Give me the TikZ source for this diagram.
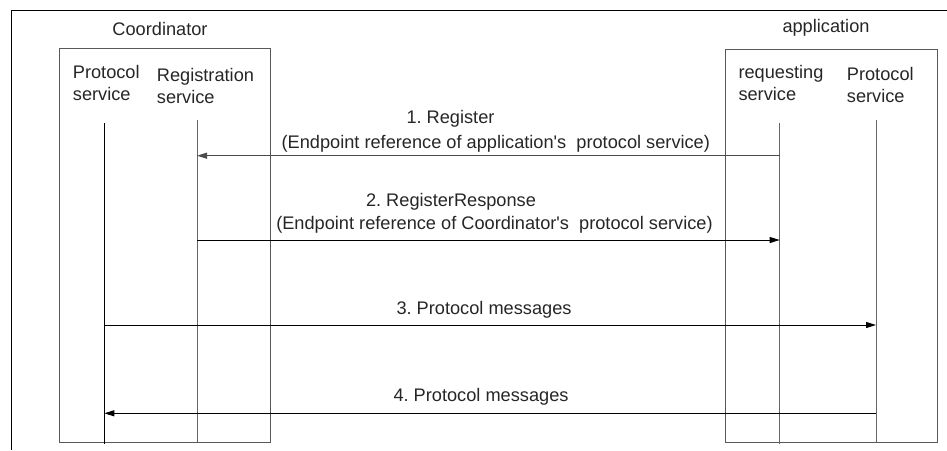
\documentclass[tikz,border=0pt]{standalone}
\usepackage{fontspec}
\setmainfont{Liberation Sans}
\usetikzlibrary{arrows.meta}
\frenchspacing
\begin{document}
\begin{tikzpicture}[x=1pt,y=-1pt,
  lbl/.style={font=\fontsize{18.2}{22}\selectfont\frenchspacing, text=black!85, inner sep=0pt},
  box/.style={draw=black!65, line width=1pt, inner sep=0pt},
  lifeblack/.style={draw=black, line width=1pt},
  lifegray/.style={draw=black!60, line width=1pt},
  msg/.style={line width=1pt, -{Triangle[length=10pt,width=6pt]}}]
\useasboundingbox (0,0) rectangle (947,450);
% outer frame (cropped)
\coordinate (fBL) at (11,450);
\coordinate (fTL) at (11,10);
\coordinate (fTR) at (947,10);
\draw[line width=1pt] (fBL) -- (fTL) -- (fTR);
% group boxes
\node[box, anchor=north west, minimum width=211.3pt, minimum height=394.2pt] (cbox) at (58.7,47.5) {};
\node[box, anchor=north west, minimum width=211.7pt, minimum height=392.7pt] (abox) at (725.3,49) {};
% titles
\node[lbl, anchor=base] (coord) at (160,35) {Coordinator};
\node[lbl, anchor=base] (app) at (826,32) {application};
% column labels (base = last line)
\node[lbl, anchor=base west, align=left] (cps) at (72.7,100) {Protocol\\service};
\node[lbl, anchor=base west, align=left] (crs) at (156.7,103) {Registration\\service};
\node[lbl, anchor=base west, align=left] (ars) at (738.3,100) {requesting\\service};
\node[lbl, anchor=base west, align=left] (aps) at (846.7,102) {Protocol\\service};
% lifelines
\coordinate (cpT) at (104.3,123);  \coordinate (cpB) at (104.3,444);
\coordinate (crT) at (197,120);    \coordinate (crB) at (197,441.7);
\coordinate (arT) at (779.7,123);  \coordinate (arB) at (779.7,444);
\coordinate (apT) at (876,120);    \coordinate (apB) at (876,441.7);
\draw[lifeblack] (cpT) -- (cpB);
\draw[lifegray] (crT) -- (crB);
\draw[lifegray] (arT) -- (arB);
\draw[lifegray] (apT) -- (apB);
% message points
\coordinate (m1a) at (779.7,155.7); \coordinate (m1b) at (197,155.7);
\coordinate (m2a) at (197,240);     \coordinate (m2b) at (779.7,240);
\coordinate (m3a) at (104.3,325);   \coordinate (m3b) at (876,325);
\coordinate (m4a) at (876,413.3);   \coordinate (m4b) at (104.3,413.3);
\draw[msg, draw=black!70, fill=black!70] (m1a) -- (m1b);
\draw[msg] (m2a) -- (m2b);
\draw[msg] (m3a) -- (m3b);
\draw[msg] (m4a) -- (m4b);
% message labels
\node[lbl, anchor=base] (l1a) at (450.5,123) {1. Register};
\node[lbl, anchor=base] (l1b) at (495.8,148) {(Endpoint reference of application\textquotesingle s\ \ protocol service)};
\node[lbl, anchor=base] (l2a) at (451,206) {2. RegisterResponse};
\node[lbl, anchor=base] (l2b) at (494.5,229.6) {(Endpoint reference of Coordinator\textquotesingle s\ \ protocol service)};
\node[lbl, anchor=base] (l3) at (484,314) {3. Protocol messages};
\node[lbl, anchor=base] (l4) at (481,401) {4. Protocol messages};
\end{tikzpicture}
\end{document}
